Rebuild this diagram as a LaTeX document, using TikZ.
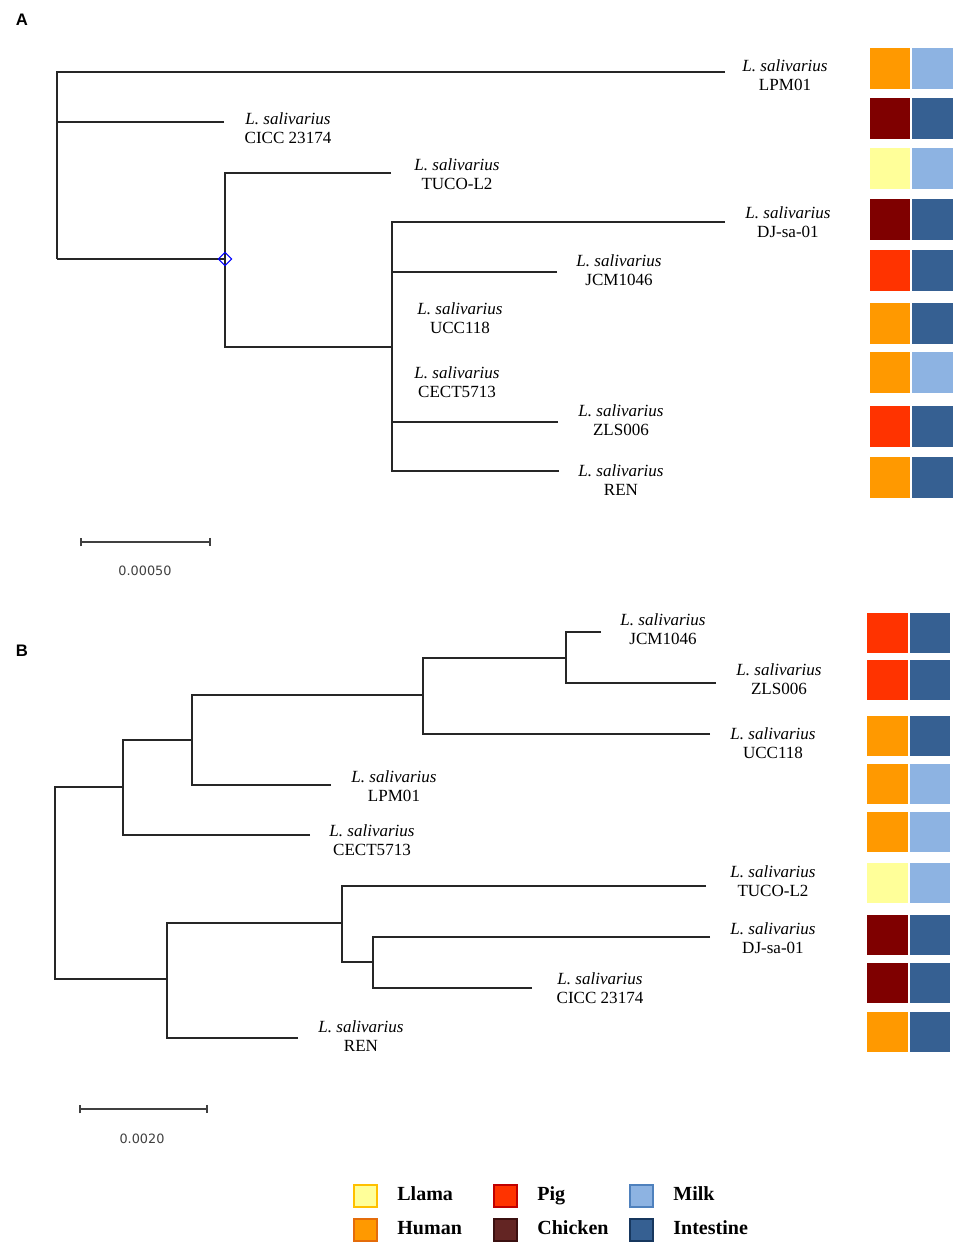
\documentclass[tikz,border=0pt]{standalone}
\usepackage{fontspec}
\setmainfont{Liberation Serif}
\newfontfamily\barfont{DejaVu Sans}
\newfontfamily\panelfont{Liberation Sans}
\usetikzlibrary{shapes.geometric,arrows.meta}

\definecolor{llama}{HTML}{FFFF99}
\definecolor{human}{HTML}{FF9900}
\definecolor{pig}{HTML}{FF3300}
\definecolor{chicken}{HTML}{7F0000}
\definecolor{chickenkey}{HTML}{632523}
\definecolor{milk}{HTML}{8DB3E2}
\definecolor{intestine}{HTML}{366092}
\definecolor{bargray}{HTML}{404040}

\begin{document}
\begin{tikzpicture}[x=0.02cm, y=-0.02cm,
    branch/.style={line width=1.1pt, black!85},
    taxon/.style={align=center, inner sep=0pt, font=\fontsize{9.7}{10.8}\selectfont},
    panel/.style={inner sep=0pt, font=\panelfont\bfseries\fontsize{9.5}{11}\selectfont},
    barlabel/.style={inner sep=0pt, text=bargray, font=\barfont\fontsize{7.3}{9}\selectfont},
    keylabel/.style={anchor=base west, inner sep=0pt, font=\bfseries\fontsize{11.4}{13}\selectfont}]
    \useasboundingbox (0,0) rectangle (957,1245);

    \node[panel] (pA) at (22,20) {A};
    \node[panel] (pB) at (22,651) {B};

    % tree A
    \coordinate (aR) at (57,259);
    \coordinate (aN1) at (225,259);
    \coordinate (aN2) at (392,347);
    \coordinate (aLPM) at (725,72);
    \coordinate (aCICC) at (224,122);
    \coordinate (aTUCO) at (391,173);
    \coordinate (aDJ) at (725,222);
    \coordinate (aJCM) at (557,272);
    \coordinate (aZLS) at (558,422);
    \coordinate (aREN) at (559,471);
    \foreach \c/\p in {aLPM/aR, aCICC/aR, aN1/aR, aTUCO/aN1, aN2/aN1,
                       aDJ/aN2, aJCM/aN2, aZLS/aN2, aREN/aN2} {
        \draw[branch] (\c) -| (\p);
    }
    \node[diamond, draw=blue, inner sep=0pt, minimum size=0.27cm, line width=0.6pt] (aMark) at (aN1) {};

    \node[taxon] (aLPMl) at (785,75) {\textit{L. salivarius}\\LPM01};
    \node[taxon] (aCICCl) at (288,128) {\textit{L. salivarius}\\CICC 23174};
    \node[taxon] (aTUCOl) at (457,174) {\textit{L. salivarius}\\TUCO-L2};
    \node[taxon] (aDJl) at (788,222) {\textit{L. salivarius}\\DJ-sa-01};
    \node[taxon] (aJCMl) at (619,270.5) {\textit{L. salivarius}\\JCM1046};
    \node[taxon] (aUCCl) at (460,318.5) {\textit{L. salivarius}\\UCC118};
    \node[taxon] (aCECTl) at (457,382.5) {\textit{L. salivarius}\\CECT5713};
    \node[taxon] (aZLSl) at (621,420.5) {\textit{L. salivarius}\\ZLS006};
    \node[taxon] (aRENl) at (621,480.5) {\textit{L. salivarius}\\REN};

    \foreach \t/\l/\r in {48/human/milk, 98/chicken/intestine, 148/llama/milk,
                          199/chicken/intestine, 250/pig/intestine, 303/human/intestine,
                          352/human/milk, 406/pig/intestine, 457/human/intestine} {
        \fill[\l] (870,\t) rectangle ++(40,41);
        \fill[\r] (912,\t) rectangle ++(41,41);
    }

    \coordinate (aBar1) at (80,542);
    \coordinate (aBar2) at (211,542);
    \draw[line width=0.9pt, bargray, {Bar[width=0.17cm]}-{Bar[width=0.17cm]}] (aBar1) -- (aBar2);
    \node[barlabel] (aBarl) at (145,571) {0.00050};

    % tree B
    \coordinate (bR) at (55,883);
    \coordinate (bN1) at (123,787);
    \coordinate (bN2) at (192,740);
    \coordinate (bN3) at (423,695);
    \coordinate (bN4) at (566,658);
    \coordinate (bN5) at (167,979);
    \coordinate (bN6) at (342,923);
    \coordinate (bN7) at (373,962);
    \coordinate (bJCM) at (601,632);
    \coordinate (bZLS) at (716,683);
    \coordinate (bUCC) at (710,734);
    \coordinate (bLPM) at (331,785);
    \coordinate (bCECT) at (310,835);
    \coordinate (bTUCO) at (706,886);
    \coordinate (bDJ) at (710,937);
    \coordinate (bCICC) at (532,988);
    \coordinate (bREN) at (298,1038);
    \foreach \c/\p in {bN1/bR, bN5/bR, bN2/bN1, bCECT/bN1, bN3/bN2, bLPM/bN2,
                       bN4/bN3, bUCC/bN3, bJCM/bN4, bZLS/bN4, bN6/bN5, bREN/bN5,
                       bTUCO/bN6, bN7/bN6, bDJ/bN7, bCICC/bN7} {
        \draw[branch] (\c) -| (\p);
    }

    \node[taxon] (bJCMl) at (663,629.5) {\textit{L. salivarius}\\JCM1046};
    \node[taxon] (bZLSl) at (779,679.5) {\textit{L. salivarius}\\ZLS006};
    \node[taxon] (bUCCl) at (773,743.5) {\textit{L. salivarius}\\UCC118};
    \node[taxon] (bLPMl) at (394,786.5) {\textit{L. salivarius}\\LPM01};
    \node[taxon] (bCECTl) at (372,840.5) {\textit{L. salivarius}\\CECT5713};
    \node[taxon] (bTUCOl) at (773,881.5) {\textit{L. salivarius}\\TUCO-L2};
    \node[taxon] (bDJl) at (773,938.5) {\textit{L. salivarius}\\DJ-sa-01};
    \node[taxon] (bCICCl) at (600,988.5) {\textit{L. salivarius}\\CICC 23174};
    \node[taxon] (bRENl) at (361,1036.5) {\textit{L. salivarius}\\REN};

    \foreach \t/\l/\r in {613/pig/intestine, 660/pig/intestine, 716/human/intestine,
                          764/human/milk, 812/human/milk, 863/llama/milk,
                          915/chicken/intestine, 963/chicken/intestine, 1012/human/intestine} {
        \fill[\l] (867,\t) rectangle ++(41,40);
        \fill[\r] (910,\t) rectangle ++(40,40);
    }

    \coordinate (bBar1) at (79,1109);
    \coordinate (bBar2) at (208,1109);
    \draw[line width=0.9pt, bargray, {Bar[width=0.17cm]}-{Bar[width=0.17cm]}] (bBar1) -- (bBar2);
    \node[barlabel] (bBarl) at (142,1139) {0.0020};

    % key
    \foreach \x/\y/\f/\b/\t in {354/1185/llama/FFC000/Llama, 354/1219/human/E46C0A/Human,
                                494/1185/pig/C00000/Pig, 494/1219/chickenkey/3B1010/Chicken,
                                630/1185/milk/4F81BD/Milk, 630/1219/intestine/17375E/Intestine} {
        \definecolor{keyborder}{HTML}{\b}
        \filldraw[fill=\f, draw=keyborder, line width=0.8pt] (\x,\y) rectangle ++(23,22);
        \node[keylabel] (key\t) at (\x+43,\y+15) {\t};
    }
\end{tikzpicture}
\end{document}
